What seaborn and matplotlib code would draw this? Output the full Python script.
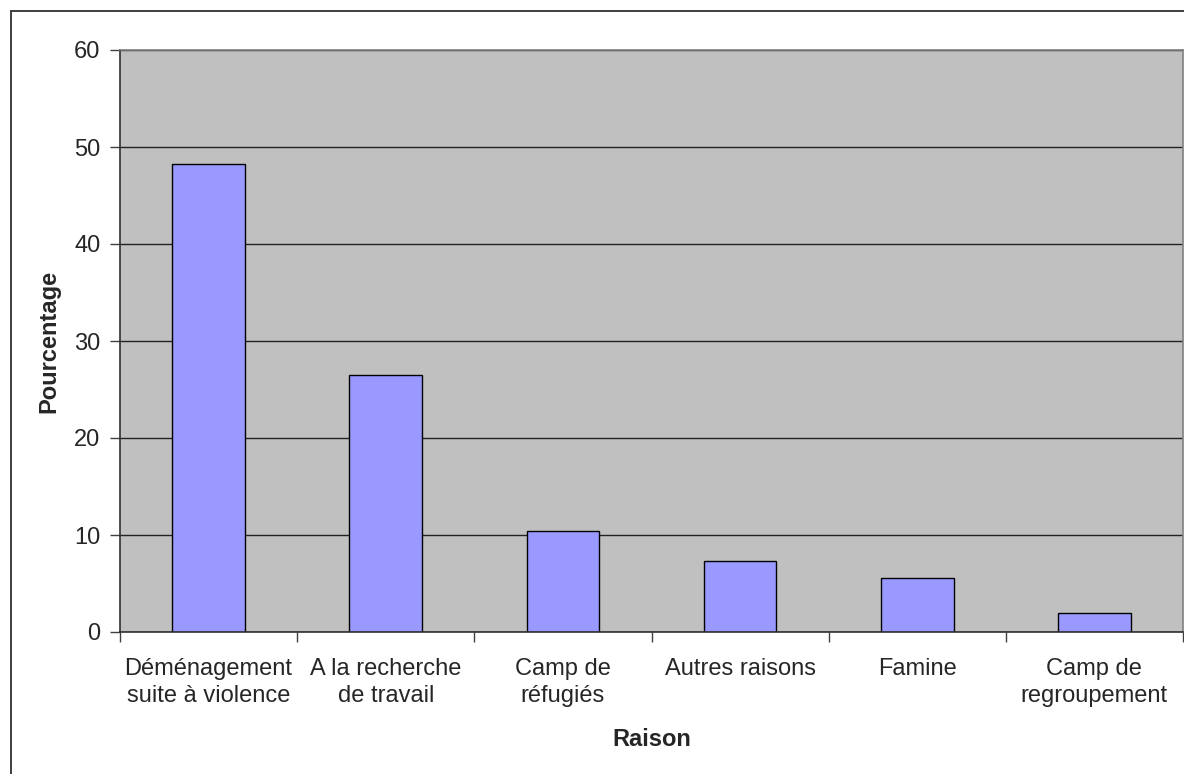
import matplotlib
matplotlib.use("Agg")
import matplotlib.pyplot as plt
import matplotlib.patches as mpatches
import seaborn as sns
import pandas as pd

# Reasons for displacement and their share (%)
raisons = [
    "Déménagement\nsuite à violence",
    "A la recherche\nde travail",
    "Camp de\nréfugiés",
    "Autres raisons",
    "Famine",
    "Camp de\nregroupement",
]
pourcentages = [48.2, 26.5, 10.4, 7.3, 5.6, 2.0]
y_ticks = [0, 10, 20, 30, 40, 50, 60]

df = pd.DataFrame({"Raison": raisons, "Pourcentage": pourcentages})

sns.set_theme(style="white")
plt.rcParams["font.family"] = ["Liberation Sans", "DejaVu Sans"]

fig = plt.figure(figsize=(11.84, 7.74), dpi=100)
ax = fig.add_axes([120 / 1184, (774 - 632) / 774, 1063 / 1184, 582 / 774])
ax.set_facecolor("#C0C0C0")

sns.barplot(
    data=df, x="Raison", y="Pourcentage", ax=ax,
    color="#9999FF", saturation=1, width=0.41,
    edgecolor="black", linewidth=1.0,
)

ax.set_xlim(-0.5, len(raisons) - 0.5)
ax.set_ylim(0, 60)
ax.set_yticks(y_ticks)
ax.set_yticklabels([str(t) for t in y_ticks])

# Horizontal gridlines in black, drawn behind the bars
ax.set_axisbelow(True)
ax.yaxis.grid(True, color="#222222", linewidth=1.0)
ax.xaxis.grid(False)

# Category separators as downward ticks between bars
ax.set_xticks([i + 0.5 for i in range(-1, len(raisons))], minor=True)
ax.tick_params(axis="x", which="minor", length=7, width=1.0, color="#404040",
               direction="out", bottom=True)
ax.tick_params(axis="x", which="major", length=0, pad=19, labelsize=17)
ax.tick_params(axis="y", which="major", length=7, width=1.0, color="#404040",
               direction="out", left=True, pad=7, labelsize=17)
for lbl in ax.get_xticklabels():
    lbl.set_multialignment("center")
    lbl.set_linespacing(1.3)

for side in ["left", "bottom"]:
    ax.spines[side].set_color("#303030")
    ax.spines[side].set_linewidth(1.2)
for side in ["top", "right"]:
    ax.spines[side].set_color("#808080")
    ax.spines[side].set_linewidth(1.2)

ax.set_xlabel("Raison", fontsize=17, fontweight="bold", labelpad=15)
ax.set_ylabel("Pourcentage", fontsize=17, fontweight="bold", labelpad=10)

# Chart frame around the whole figure
frame = mpatches.Rectangle(
    (11 / 1184, -0.1), 1.2, (774 - 11) / 774 + 0.1,
    transform=fig.transFigure, fill=False, edgecolor="#303030",
    linewidth=1.3, clip_on=False,
)
fig.patches.append(frame)

fig.savefig("out.png", dpi=100)
